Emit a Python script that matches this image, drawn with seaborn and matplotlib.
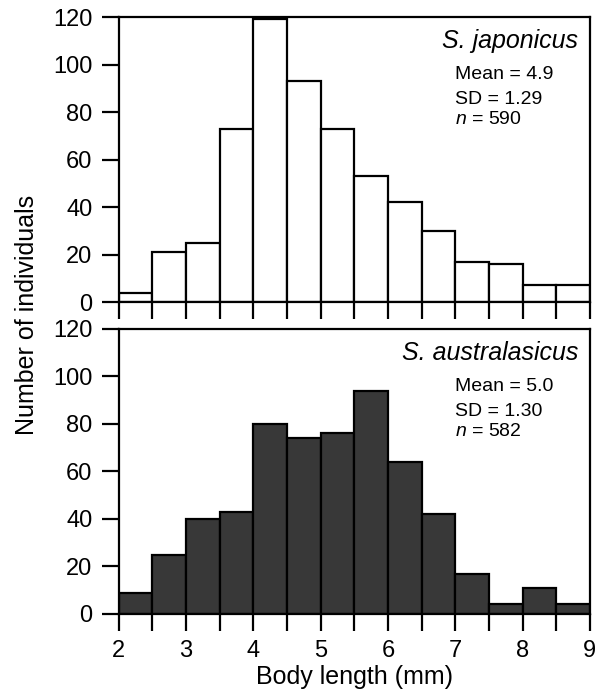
import numpy as np
import matplotlib
matplotlib.use("Agg")
import matplotlib.pyplot as plt
import seaborn as sns

# === DATA ===
bin_edges = [2.0, 2.5, 3.0, 3.5, 4.0, 4.5, 5.0, 5.5, 6.0, 6.5, 7.0, 7.5, 8.0, 8.5, 9.0]
japonicus_counts = [4, 21, 25, 73, 119, 93, 73, 53, 42, 30, 17, 16, 7, 7]
australasicus_counts = [9, 25, 40, 43, 80, 74, 76, 94, 64, 42, 17, 4, 11, 4]
species = ["S. japonicus", "S. australasicus"]
stats_mean = ["4.9", "5.0"]
stats_sd = ["1.29", "1.30"]
stats_n = ["590", "582"]
y_ticks = [0, 20, 40, 60, 80, 100, 120]

# === STYLE ===
sns.set_style("ticks")
plt.rcParams["font.family"] = ["Liberation Sans", "DejaVu Sans"]
plt.rcParams["text.color"] = "black"
plt.rcParams["axes.labelcolor"] = "black"
plt.rcParams["mathtext.fontset"] = "custom"
plt.rcParams["mathtext.it"] = "Liberation Sans:italic"
plt.rcParams["mathtext.rm"] = "Liberation Sans"

fig = plt.figure(figsize=(6.0, 6.94), dpi=100)
ax_top = fig.add_axes([0.198, 0.5648, 0.785, 0.4107])
ax_bot = fig.add_axes([0.198, 0.1153, 0.785, 0.4107])

centers = [(a + b) / 2 for a, b in zip(bin_edges[:-1], bin_edges[1:])]
panels = [(ax_top, japonicus_counts, "white"), (ax_bot, australasicus_counts, "#383838")]

for i, (ax, counts, face) in enumerate(panels):
    sns.histplot(x=centers, weights=counts, bins=bin_edges, ax=ax,
                 color=face, edgecolor="black", linewidth=1.6, alpha=1)
    ax.set_xlim(2, 9)
    ax.set_ylim(0, 120)
    ax.set_yticks(y_ticks)
    ax.set_xticks(bin_edges)
    ax.set_ylabel("")
    ax.set_xlabel("")
    for sp in ax.spines.values():
        sp.set_visible(True)
        sp.set_linewidth(1.6)
        sp.set_color("black")
    ax.tick_params(axis="both", direction="out", length=12, width=1.6,
                   labelsize=17, color="black", labelcolor="black", pad=7)
    ax.set_xticklabels([str(int(t)) if float(t).is_integer() else "" for t in bin_edges])

    ax.text(0.975, 0.89, species[i], transform=ax.transAxes, ha="right",
            va="baseline", fontsize=18, style="italic")
    ax.text(0.713, 0.782, f"Mean = {stats_mean[i]}", transform=ax.transAxes,
            va="baseline", fontsize=14)
    ax.text(0.713, 0.695, f"SD = {stats_sd[i]}", transform=ax.transAxes,
            va="baseline", fontsize=14)
    ax.text(0.713, 0.625, f"$n$ = {stats_n[i]}", transform=ax.transAxes,
            va="baseline", fontsize=14)

ax_top.tick_params(axis="x", labelbottom=False)
ax_bot.set_xlabel("Body length (mm)", fontsize=18, labelpad=2)
fig.text(0.045, 0.546, "Number of individuals", rotation=90, ha="center",
         va="center", fontsize=18)

fig.savefig("out.png", dpi=100, facecolor="white")
